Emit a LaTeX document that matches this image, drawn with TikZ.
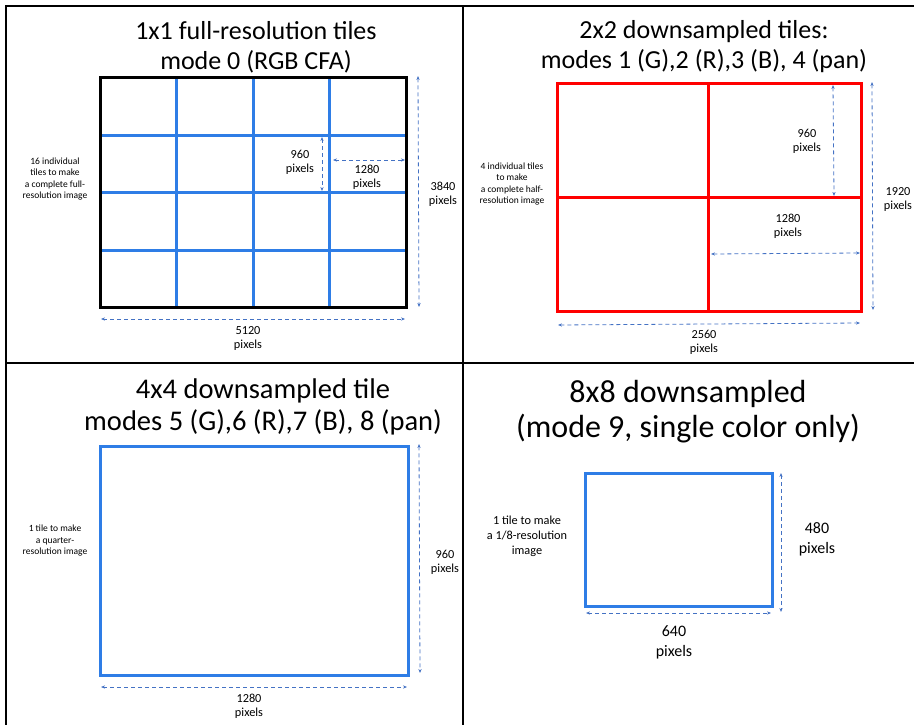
\documentclass[tikz,border=0pt]{standalone}
\usepackage{fontspec}
\setmainfont{Carlito}
\usetikzlibrary{arrows.meta}
\definecolor{gridblue}{RGB}{46,125,230}
\definecolor{dimblue}{RGB}{68,114,196}
\definecolor{tilered}{RGB}{255,0,0}
\tikzset{
  frame/.style={black, line width=1.5pt},
  dimline/.style={dimblue, line width=0.8pt, dash pattern=on 4pt off 3pt,
    {Stealth[length=4pt,width=3.2pt]}-{Stealth[length=4pt,width=3.2pt]}},
  gridline/.style={gridblue, line width=3pt},
  redline/.style={tilered, line width=3pt},
  outerblack/.style={black, line width=3pt},
  titleA/.style={align=center, inner sep=0pt, font=\fontsize{26}{30}\selectfont},
  titleB/.style={align=center, inner sep=0pt, font=\fontsize{28.5}{32}\selectfont},
  titleC/.style={align=center, inner sep=0pt, font=\fontsize{32}{35}\selectfont},
  dimlbl/.style={align=center, inner sep=0pt, font=\fontsize{12.3}{14}\selectfont},
  biglbl/.style={align=center, inner sep=0pt, font=\fontsize{16}{20}\selectfont},
  sidenote/.style={align=center, inner sep=0pt, font=\fontsize{9.5}{11.5}\selectfont},
  sidenotebig/.style={align=center, inner sep=0pt, font=\fontsize{12.3}{15}\selectfont},
}
\begin{document}
\begin{tikzpicture}[x=1pt,y=-1pt]
\useasboundingbox (0,0) rectangle (914,725);
% frame
\draw[frame] (914,6) -- (6,6) -- (6,725);
\draw[frame] (463,6) -- (463,725);
\draw[frame] (6,363) -- (914,363);

% ---------- Panel 1 ----------
\node[titleA] (t1) at (256,47) {1x1 full-resolution tiles\\mode 0 (RGB CFA)};
\foreach \x in {176.5,253,329.5} \draw[gridline] (\x,78) -- (\x,307);
\foreach \y in {135.5,192.5,250} \draw[gridline] (100,\y) -- (406,\y);
\draw[outerblack] (100,78) rectangle (406,307);
\coordinate (p1a) at (322,137); \coordinate (p1b) at (322,191);
\draw[dimline] (p1a) -- (p1b);
\node[dimlbl] (l1a) at (300,162) {960\\pixels};
\coordinate (p1c) at (333,160); \coordinate (p1d) at (405,160);
\draw[dimline] (p1c) -- (p1d);
\node[dimlbl] (l1b) at (367,177) {1280\\pixels};
\coordinate (p1e) at (418,76); \coordinate (p1f) at (419,307);
\draw[dimline] (p1e) -- (p1f);
\node[dimlbl] (l1c) at (443,194) {3840\\pixels};
\coordinate (p1g) at (101,319); \coordinate (p1h) at (405,319);
\draw[dimline] (p1g) -- (p1h);
\node[dimlbl] (l1d) at (248,338) {5120\\pixels};
\node[sidenote] (s1) at (55,179) {16 individual\\tiles to make\\a complete full-\\resolution image};

% ---------- Panel 2 ----------
\node[titleA] (t2) at (704,47) {2x2 downsampled tiles:\\modes 1 (G),2 (R),3 (B), 4 (pan)};
\draw[redline] (708,84) -- (708,311);
\draw[redline] (557,197) -- (861,197);
\draw[redline] (557,84) rectangle (861,311);
\coordinate (p2a) at (833,85); \coordinate (p2b) at (834,196);
\draw[dimline] (p2a) -- (p2b);
\node[dimlbl] (l2a) at (807,141) {960\\pixels};
\coordinate (p2c) at (711,254); \coordinate (p2d) at (860,253);
\draw[dimline] (p2c) -- (p2d);
\node[dimlbl] (l2b) at (788,226) {1280\\pixels};
\coordinate (p2e) at (872,82); \coordinate (p2f) at (873,310);
\draw[dimline] (p2e) -- (p2f);
\node[dimlbl] (l2c) at (898,199) {1920\\pixels};
\coordinate (p2g) at (558,325); \coordinate (p2h) at (860,323);
\draw[dimline] (p2g) -- (p2h);
\node[dimlbl] (l2d) at (704,342) {2560\\pixels};
\node[sidenote] (s2) at (512,184) {4 individual tiles\\to make\\a complete half-\\resolution image};

% ---------- Panel 3 ----------
\node[titleB] (t3) at (263,407) {4x4 downsampled tile\\modes 5 (G),6 (R),7 (B), 8 (pan)};
\draw[gridline] (100,446) rectangle (408,675);
\coordinate (p3a) at (419,444); \coordinate (p3b) at (420,673);
\draw[dimline] (p3a) -- (p3b);
\node[dimlbl] (l3a) at (445,562) {960\\pixels};
\coordinate (p3c) at (101,687); \coordinate (p3d) at (407,687);
\draw[dimline] (p3c) -- (p3d);
\node[dimlbl] (l3b) at (249,706) {1280\\pixels};
\node[sidenote] (s3) at (55,541) {1 tile to make\\a quarter-\\resolution image};

% ---------- Panel 4 ----------
\node[titleC] (t4) at (688,412) {8x8 downsampled\\(mode 9, single color only)};
\draw[gridline] (585,473) rectangle (772,606);
\coordinate (p4a) at (781,473); \coordinate (p4b) at (781,612);
\draw[dimline] (p4a) -- (p4b);
\node[biglbl] (l4a) at (817,539) {480\\pixels};
\coordinate (p4c) at (586,613); \coordinate (p4d) at (771,613);
\draw[dimline] (p4c) -- (p4d);
\node[biglbl] (l4b) at (674,642) {640\\pixels};
\node[sidenotebig] (s4) at (527,536) {1 tile to make\\a 1/8-resolution\\image};
\end{tikzpicture}
\end{document}
